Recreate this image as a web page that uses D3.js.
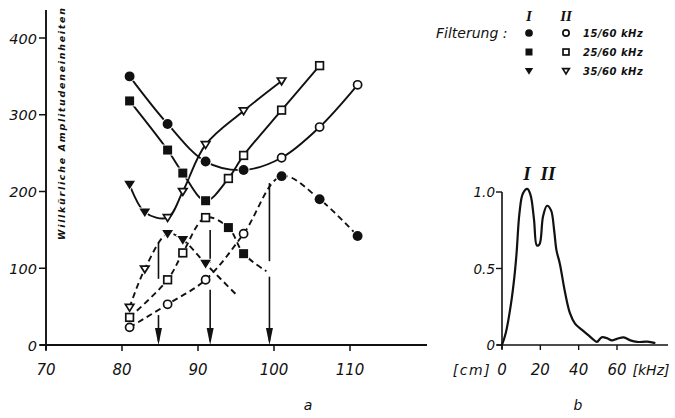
<!DOCTYPE html>
<html>
<head>
<meta charset="utf-8">
<script src="https://cdn.jsdelivr.net/npm/d3@7"></script>
<style>
  html, body { margin: 0; padding: 0; background: #fff; }
  svg { display: block; }
  text { font-family: "DejaVu Sans", "Liberation Sans", sans-serif; font-style: italic; fill: #111; }
</style>
</head>
<body>
<svg id="chart" width="675" height="418"></svg>
<script>
  // --- left panel (a): amplitude vs. distance [cm]; points are [cm, amplitude, marker]
  // marker: "f" = filled (Filterung I), "o" = open (Filterung II), "" = no marker
  const solid15 = [[81, 350, "f"], [86, 288, "f"], [91, 239, "f"], [96, 228, "f"], [101, 244, "o"], [106, 284, "o"], [111, 339, "o"]];
  const solid25 = [[81, 318, "f"], [86, 254, "f"], [88, 224, "f"], [91, 188, "f"], [94, 217, "o"], [96, 247, "o"], [101, 306, "o"], [106, 364, "o"]];
  const solid35 = [[81, 209, "f"], [83, 173, "f"], [86, 166, "o"], [88, 200, "o"], [91, 261, "o"], [96, 305, "o"], [101, 344, "o"]];
  const dashed15 = [[81, 23, "o"], [86, 53, "o"], [91, 85, "o"], [96, 145, "o"], [101, 220, "f"], [106, 190, "f"], [111, 142, "f"]];
  const dashed25 = [[81, 36, "o"], [86, 85, "o"], [88, 120, "o"], [91, 166, "o"], [94, 153, "f"], [96, 119, "f"], [99, 96, ""]];
  const dashed35 = [[81, 49, "o"], [83, 99, "o"], [86, 145, "f"], [88, 137, "f"], [91, 106, "f"], [95, 66, ""]];

  // vertical arrows: x position [cm], top [amplitude], gap [amplitude from, to]
  const arrowX = [84.8, 91.6, 99.4];
  const arrowTop = [133, 150, 211];
  const arrowGap = [[81, 39], [102, 72], [104, 89]];

  const xTicksA = [70, 80, 90, 100, 110];
  const yTicksA = [0, 100, 200, 300, 400];

  // --- right panel (b): spectrum, [kHz, relative amplitude]
  const spectrum = [[0, 0], [2, 0.08], [4.7, 0.27], [6.5, 0.45], [7.6, 0.6], [9.1, 0.86], [10.9, 0.99], [13.2, 1.02],
    [14.9, 0.98], [16.7, 0.82], [18.2, 0.65], [19.6, 0.66], [21.4, 0.84], [23.5, 0.91], [25.6, 0.88], [27.2, 0.75],
    [28.4, 0.62], [30.2, 0.53], [32.8, 0.35], [35.4, 0.21], [38.1, 0.14], [41.6, 0.1], [45, 0.065], [47.7, 0.035],
    [49.5, 0.02], [52, 0.05], [54.7, 0.045], [57.4, 0.03], [60, 0.04], [63.5, 0.05], [67, 0.03], [70.5, 0.02],
    [75.8, 0.022], [80, 0.012]];
  const xTicksB = [0, 20, 40, 60];
  const yTicksB = [0, 0.5, 1.0];
  const yTickLabelsB = ["0", "0.5", "1.0"];
  const peakLabels = [[13, "I"], [24, "II"]];

  const legendRows = ["15/60 kHz", "25/60 kHz", "35/60 kHz"];
  const legendShapes = ["circle", "square", "triangle"];

  const svg = d3.select("#chart");
  const ink = "#111";

  const xA = d3.scaleLinear().domain([70, 110]).range([46, 350]);
  const yA = d3.scaleLinear().domain([0, 400]).range([345, 38]);
  const xB = d3.scaleLinear().domain([0, 60]).range([502, 617]);
  const yB = d3.scaleLinear().domain([0, 1]).range([345, 192]);

  function marker(g, shape, kind, cx, cy, s) {
    const filled = kind === "f";
    let el;
    if (shape === "circle") {
      el = g.append("circle").attr("cx", cx).attr("cy", cy).attr("r", filled ? s * 0.55 : s * 0.45);
    } else if (shape === "square") {
      const w = filled ? s * 1.0 : s * 0.85;
      el = g.append("rect").attr("x", cx - w / 2).attr("y", cy - w / 2).attr("width", w).attr("height", w);
    } else {
      const w = filled ? s * 0.6 : s * 0.47;
      el = g.append("path")
        .attr("d", `M${cx - w},${cy - w * 0.7}L${cx + w},${cy - w * 0.7}L${cx},${cy + w * 0.9}Z`);
    }
    if (filled) {
      el.attr("fill", ink).attr("stroke", "#fff").attr("stroke-width", 2).attr("paint-order", "stroke");
    } else {
      el.attr("fill", "#fff").attr("stroke", ink).attr("stroke-width", 1.7);
    }
  }

  // ---------- panel a ----------
  const gA = svg.append("g");

  const lineA = d3.line().x((d) => xA(d[0])).y((d) => yA(d[1])).curve(d3.curveCatmullRom.alpha(0.5));

  const curves = [
    { data: solid15, shape: "circle", dash: null },
    { data: solid25, shape: "square", dash: null },
    { data: solid35, shape: "triangle", dash: null },
    { data: dashed15, shape: "circle", dash: "6,4" },
    { data: dashed25, shape: "square", dash: "6,4" },
    { data: dashed35, shape: "triangle", dash: "6,4" },
  ];

  curves.forEach((c) => {
    gA.append("path")
      .attr("d", lineA(c.data))
      .attr("fill", "none")
      .attr("stroke", ink)
      .attr("stroke-width", 1.9)
      .attr("stroke-dasharray", c.dash);
  });

  // arrows
  arrowX.forEach((ax, i) => {
    const x = xA(ax);
    const segs = [[arrowTop[i], arrowGap[i][0]], [arrowGap[i][1], 0]];
    segs.forEach((s) => {
      gA.append("line")
        .attr("x1", x).attr("x2", x)
        .attr("y1", yA(s[0])).attr("y2", yA(s[1]) - 4)
        .attr("stroke", ink).attr("stroke-width", 1.6);
    });
    const yb = yA(0);
    gA.append("path")
      .attr("d", `M${x - 3.5},${yb - 17}L${x + 3.5},${yb - 17}L${x},${yb}Z`)
      .attr("fill", ink);
  });

  curves.forEach((c) => {
    c.data.forEach((d) => {
      if (d[2]) marker(gA, c.shape, d[2], xA(d[0]), yA(d[1]), 9);
    });
  });

  // axes a
  gA.append("line").attr("x1", xA(70) - 6).attr("x2", 427).attr("y1", yA(0)).attr("y2", yA(0))
    .attr("stroke", ink).attr("stroke-width", 1.9);
  gA.append("line").attr("x1", xA(70)).attr("x2", xA(70)).attr("y1", yA(0) + 5).attr("y2", 10)
    .attr("stroke", ink).attr("stroke-width", 1.9);

  yTicksA.forEach((t) => {
    gA.append("line").attr("x1", xA(70) - 7).attr("x2", xA(70)).attr("y1", yA(t)).attr("y2", yA(t))
      .attr("stroke", ink).attr("stroke-width", 1.5);
    gA.append("text").attr("x", xA(70) - 9).attr("y", yA(t) + 5.5)
      .attr("text-anchor", "end").attr("font-size", 14.5).text(t);
  });
  xTicksA.forEach((t) => {
    gA.append("line").attr("x1", xA(t)).attr("x2", xA(t)).attr("y1", yA(0)).attr("y2", yA(0) + 6)
      .attr("stroke", ink).attr("stroke-width", 1.5);
    gA.append("text").attr("x", xA(t)).attr("y", 375)
      .attr("text-anchor", "middle").attr("font-size", 15).text(t);
  });
  gA.append("text").attr("x", 472).attr("y", 375).attr("text-anchor", "middle")
    .attr("font-size", 14).attr("letter-spacing", 1.5).text("[cm]");

  gA.append("text")
    .attr("transform", "translate(65,124) rotate(-90)")
    .attr("text-anchor", "middle")
    .attr("font-size", 9.5)
    .attr("font-weight", 700)
    .attr("textLength", 232)
    .attr("lengthAdjust", "spacing")
    .text("Willkürliche Amplitudeneinheiten");

  gA.append("text").attr("x", 308).attr("y", 410).attr("text-anchor", "middle").attr("font-size", 14).text("a");

  // ---------- panel b ----------
  const gB = svg.append("g");
  const lineB = d3.line().x((d) => xB(d[0])).y((d) => yB(d[1])).curve(d3.curveCatmullRom.alpha(0.5));

  gB.append("path").attr("d", lineB(spectrum)).attr("fill", "none")
    .attr("stroke", ink).attr("stroke-width", 2.2);

  gB.append("line").attr("x1", xB(0) - 5).attr("x2", 668).attr("y1", yB(0)).attr("y2", yB(0))
    .attr("stroke", ink).attr("stroke-width", 1.6);
  gB.append("line").attr("x1", xB(0)).attr("x2", xB(0)).attr("y1", yB(0) + 4).attr("y2", yB(1))
    .attr("stroke", ink).attr("stroke-width", 1.6);

  yTicksB.forEach((t, i) => {
    gB.append("line").attr("x1", xB(0) - 6).attr("x2", xB(0)).attr("y1", yB(t)).attr("y2", yB(t))
      .attr("stroke", ink).attr("stroke-width", 1.4);
    gB.append("text").attr("x", xB(0) - 7).attr("y", yB(t) + 5)
      .attr("text-anchor", "end").attr("font-size", 13.5).text(yTickLabelsB[i]);
  });
  xTicksB.forEach((t) => {
    gB.append("line").attr("x1", xB(t)).attr("x2", xB(t)).attr("y1", yB(0)).attr("y2", yB(0) + 5)
      .attr("stroke", ink).attr("stroke-width", 1.4);
    gB.append("text").attr("x", xB(t)).attr("y", 375)
      .attr("text-anchor", "middle").attr("font-size", 15).text(t);
  });
  gB.append("text").attr("x", 651).attr("y", 375).attr("text-anchor", "middle")
    .attr("font-size", 14).text("[kHz]");

  peakLabels.forEach((p) => {
    gB.append("text").attr("x", xB(p[0])).attr("y", 180).attr("text-anchor", "middle")
      .style("font-family", "'Liberation Serif', 'DejaVu Serif', serif")
      .attr("font-weight", 700).attr("font-size", 19).text(p[1]);
  });

  gB.append("text").attr("x", 578).attr("y", 410).attr("text-anchor", "middle").attr("font-size", 14).text("b");

  // ---------- legend ----------
  const gL = svg.append("g");
  gL.append("text").attr("x", 436).attr("y", 38).attr("font-size", 14).text("Filterung :");
  ["I", "II"].forEach((t, i) => {
    gL.append("text").attr("x", 529 + i * 37).attr("y", 21).attr("text-anchor", "middle")
      .style("font-family", "'Liberation Serif', 'DejaVu Serif', serif")
      .attr("font-weight", 700).attr("font-size", 15).text(t);
  });
  legendRows.forEach((label, i) => {
    const y = 33 + i * 19;
    marker(gL, legendShapes[i], "f", 529, y, 7);
    marker(gL, legendShapes[i], "o", 566, y, 7);
    gL.append("text").attr("x", 583).attr("y", y + 4).attr("font-size", 10)
      .attr("font-weight", 700).attr("letter-spacing", 0.5).text(label);
  });
</script>
</body>
</html>
